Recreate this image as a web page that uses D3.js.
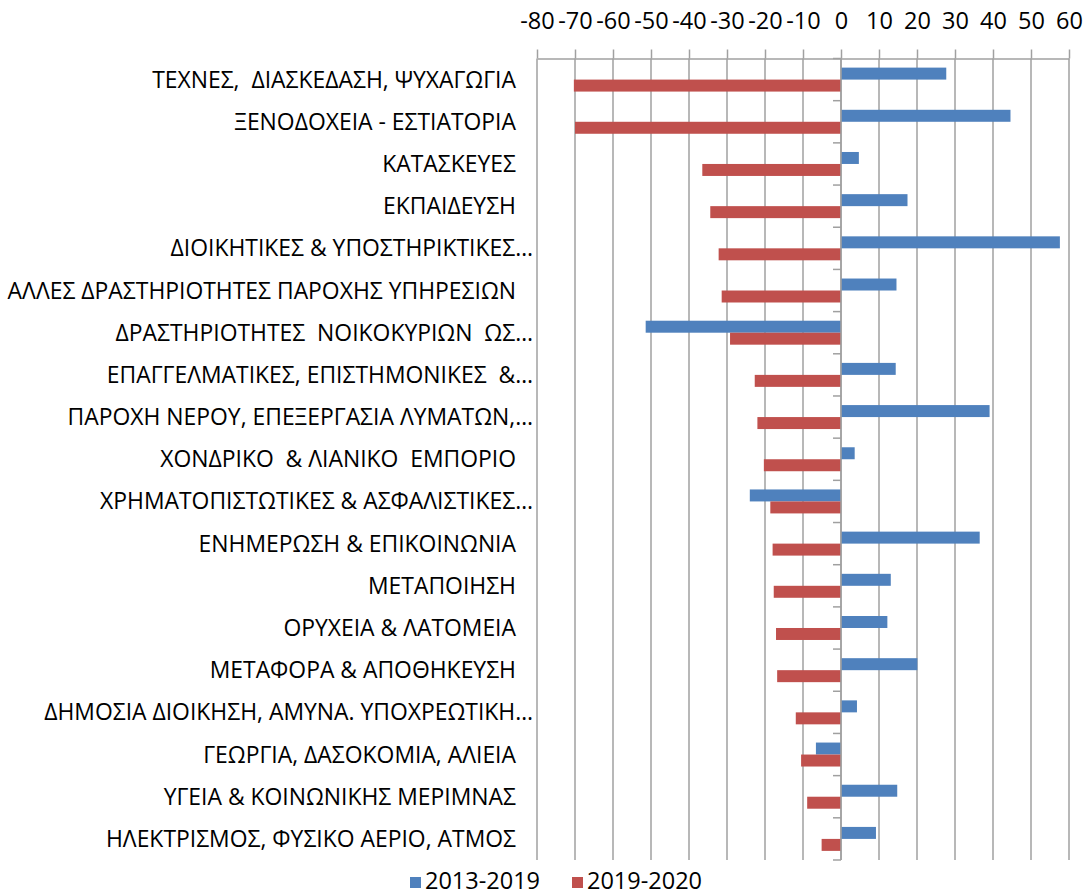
<!DOCTYPE html>
<html>
<head>
<meta charset="utf-8">
<script src="https://cdn.jsdelivr.net/npm/d3@7"></script>
<style>
  html, body { margin: 0; padding: 0; background: #fff; }
  text { font-family: "Open Sans", "Noto Sans", sans-serif; fill: #000; }
</style>
</head>
<body>
<svg id="chart" width="1084" height="892"></svg>
<script>
const categories = [
  "ΤΕΧΝΕΣ,  ΔΙΑΣΚΕΔΑΣΗ, ΨΥΧΑΓΩΓΙΑ",
  "ΞΕΝΟΔΟΧΕΙΑ - ΕΣΤΙΑΤΟΡΙΑ",
  "ΚΑΤΑΣΚΕΥΕΣ",
  "ΕΚΠΑΙΔΕΥΣΗ",
  "ΔΙΟΙΚΗΤΙΚΕΣ & ΥΠΟΣΤΗΡΙΚΤΙΚΕΣ…",
  "ΑΛΛΕΣ ΔΡΑΣΤΗΡΙΟΤΗΤΕΣ ΠΑΡΟΧΗΣ ΥΠΗΡΕΣΙΩΝ",
  "ΔΡΑΣΤΗΡΙΟΤΗΤΕΣ  ΝΟΙΚΟΚΥΡΙΩΝ  ΩΣ…",
  "ΕΠΑΓΓΕΛΜΑΤΙΚΕΣ, ΕΠΙΣΤΗΜΟΝΙΚΕΣ  &…",
  "ΠΑΡΟΧΗ ΝΕΡΟΥ, ΕΠΕΞΕΡΓΑΣΙΑ ΛΥΜΑΤΩΝ,…",
  "ΧΟΝΔΡΙΚΟ  & ΛΙΑΝΙΚΟ  ΕΜΠΟΡΙΟ",
  "ΧΡΗΜΑΤΟΠΙΣΤΩΤΙΚΕΣ & ΑΣΦΑΛΙΣΤΙΚΕΣ…",
  "ΕΝΗΜΕΡΩΣΗ & ΕΠΙΚΟΙΝΩΝΙΑ",
  "ΜΕΤΑΠΟΙΗΣΗ",
  "ΟΡΥΧΕΙΑ & ΛΑΤΟΜΕΙΑ",
  "ΜΕΤΑΦΟΡΑ & ΑΠΟΘΗΚΕΥΣΗ",
  "ΔΗΜΟΣΙΑ ΔΙΟΙΚΗΣΗ, ΑΜΥΝΑ. ΥΠΟΧΡΕΩΤΙΚΗ…",
  "ΓΕΩΡΓΙΑ, ΔΑΣΟΚΟΜΙΑ, ΑΛΙΕΙΑ",
  "ΥΓΕΙΑ & ΚΟΙΝΩΝΙΚΗΣ ΜΕΡΙΜΝΑΣ",
  "ΗΛΕΚΤΡΙΣΜΟΣ, ΦΥΣΙΚΟ ΑΕΡΙΟ, ΑΤΜΟΣ"
];
const seriesNames = ["2013-2019", "2019-2020"];
const values2013_2019 = [27.7, 44.6, 4.7, 17.5, 57.6, 14.6, -51.4, 14.4, 39.1, 3.6, -24.0, 36.5, 13.1, 12.2, 20.1, 4.2, -6.6, 14.8, 9.2];
const values2019_2020 = [-70.3, -70.0, -36.5, -34.4, -32.2, -31.4, -29.2, -22.7, -22.0, -20.3, -18.6, -18.0, -17.7, -17.1, -16.8, -11.9, -10.5, -8.9, -5.1];
const tickValues = [-80, -70, -60, -50, -40, -30, -20, -10, 0, 10, 20, 30, 40, 50, 60];
const tickLabels = ["-80", "-70", "-60", "-50", "-40", "-30", "-20", "-10", "0", "10", "20", "30", "40", "50", "60"];
const colors = ["#4F81BD", "#C0504D"];

const svg = d3.select("#chart");
const plot = { left: 537, right: 1069, top: 58.5, bottom: 860 };

const x = d3.scaleLinear().domain([-80, 60]).range([plot.left, plot.right]);
const y = d3.scaleBand().domain(categories).range([plot.top, plot.bottom]).padding(0);
const ySub = d3.scaleBand().domain(seriesNames).range([0, y.bandwidth()]).paddingInner(0).paddingOuter(0.76);

const gridColor = "#a0a0a0";
const fontSize = 23.5;
const labelSize = 22.9;

// gridlines
svg.append("g").selectAll("line").data(tickValues).join("line")
  .attr("x1", d => x(d)).attr("x2", d => x(d))
  .attr("y1", plot.top).attr("y2", plot.bottom)
  .attr("stroke", gridColor).attr("stroke-width", 1.5);

// top axis
const axisTop = d3.axisTop(x).tickValues(tickValues).tickSize(9).tickSizeOuter(0).tickPadding(21)
  .tickFormat((d, i) => tickLabels[i]);
const gA = svg.append("g").attr("transform", `translate(0,${plot.top})`).call(axisTop);
gA.select(".domain").attr("stroke", gridColor).attr("stroke-width", 1.5);
gA.selectAll(".tick line").attr("stroke", gridColor).attr("stroke-width", 1.5);
gA.selectAll(".tick text").attr("font-size", fontSize).attr("font-family", "Open Sans").attr("fill", "#000");

// bars
const series = [values2013_2019, values2019_2020];
series.forEach((vals, si) => {
  svg.append("g").selectAll("rect").data(vals).join("rect")
    .attr("x", d => x(Math.min(0, d)))
    .attr("width", d => Math.abs(x(d) - x(0)))
    .attr("y", (d, i) => y(categories[i]) + ySub(seriesNames[si]))
    .attr("height", ySub.bandwidth())
    .attr("fill", colors[si]);
});

// category axis at zero
const catBounds = categories.map(c => y(c)).concat([plot.bottom]);
svg.append("line")
  .attr("x1", x(0)).attr("x2", x(0)).attr("y1", plot.top).attr("y2", plot.bottom)
  .attr("stroke", gridColor).attr("stroke-width", 1.5);
svg.append("g").selectAll("line").data(catBounds).join("line")
  .attr("x1", x(0) - 8).attr("x2", x(0))
  .attr("y1", d => d).attr("y2", d => d)
  .attr("stroke", gridColor).attr("stroke-width", 1.5);

// category labels
svg.append("g").selectAll("text").data(categories).join("text")
  .attr("x", d => d.endsWith("…") ? 533 : 516)
  .attr("y", d => y(d) + y.bandwidth() / 2)
  .attr("dy", "0.35em")
  .attr("text-anchor", "end")
  .attr("font-size", labelSize)
  .style("white-space", "pre")
  .text(d => d);

// legend
const legend = svg.append("g");
const legendX = [410, 572];
seriesNames.forEach((s, i) => {
  legend.append("rect").attr("x", legendX[i]).attr("y", 877).attr("width", 11).attr("height", 11).attr("fill", colors[i]);
  legend.append("text").attr("x", legendX[i] + 15).attr("y", 881).attr("dy", "0.35em")
    .attr("font-size", fontSize).text(s);
});
</script>
</body>
</html>
